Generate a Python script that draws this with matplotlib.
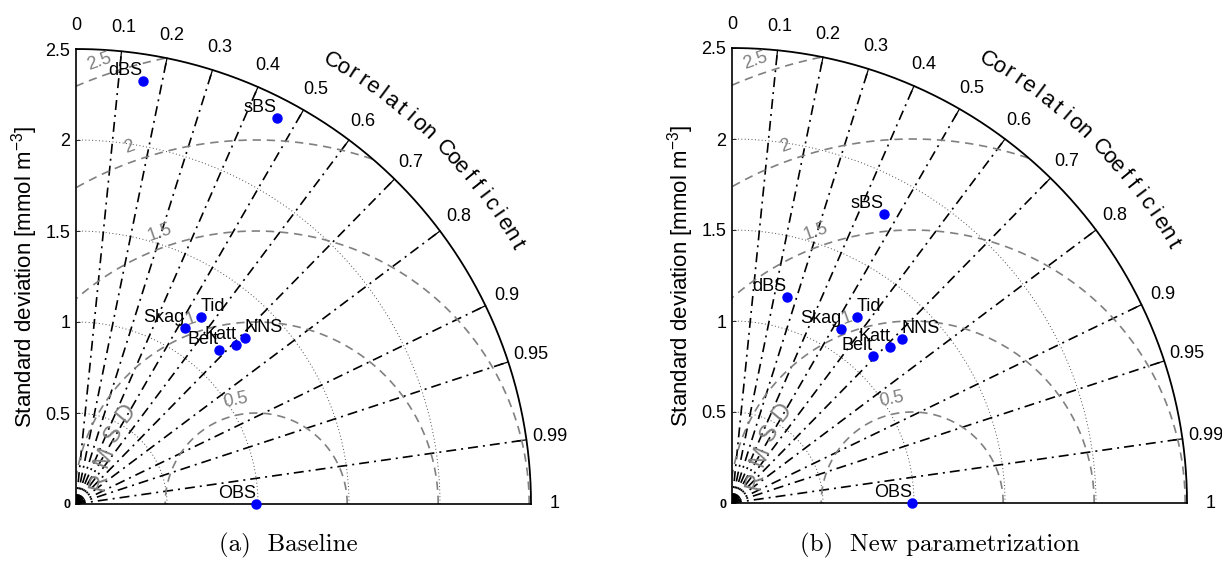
import numpy as np
import matplotlib.pyplot as plt

plt.rcParams['font.family'] = ['Liberation Sans', 'DejaVu Sans']
plt.rcParams['mathtext.fontset'] = 'custom'
plt.rcParams['mathtext.rm'] = 'Liberation Sans'
plt.rcParams['mathtext.it'] = 'Liberation Sans:italic'

# stations (same order in both panels), OBS is the reference point
names = ['OBS', 'NNS', 'Katt', 'Belt', 'Skag', 'Tid', 'sBS', 'dBS']

# (a) baseline: standard deviation [mmol m-3] and correlation
std_base = [0.99, 1.30, 1.24, 1.155, 1.135, 1.234, 2.391, 2.353]
corr_base = [1.0, 0.714, 0.709, 0.680, 0.526, 0.555, 0.461, 0.156]

# (b) new parametrization
std_new = [0.99, 1.296, 1.220, 1.119, 1.129, 1.232, 1.795, 1.173]
corr_new = [1.0, 0.719, 0.713, 0.691, 0.532, 0.556, 0.464, 0.256]

corr_ticks = [0, 0.1, 0.2, 0.3, 0.4, 0.5, 0.6, 0.7, 0.8, 0.9, 0.95, 0.99, 1]
std_ticks = [0, 0.5, 1, 1.5, 2, 2.5]
rmsd_levels = [0.5, 1, 1.5, 2, 2.5]
captions = ['(a)  Baseline', '(b)  New parametrization']

RMAX = 2.5
left_labels = ['Tid', 'NNS']  # these names sit right of their marker


def taylor(ax, std, corr):
    ax.set_xlim(0, RMAX)
    ax.set_ylim(0, RMAX)
    ax.set_aspect('equal')
    for s in ax.spines.values():
        s.set_visible(False)
    ax.set_xticks([])
    ax.set_yticks(std_ticks)
    ax.set_yticklabels([f'{v:g}' for v in std_ticks])
    ax.tick_params(axis='y', direction='in', length=3, width=0.6, labelsize=13, pad=4)
    lab0 = ax.get_yticklabels()[0]
    lab0.set_fontsize(9)
    lab0.set_fontweight('bold')
    ax.set_ylabel('Standard deviation [mmol m$^{-3}$]', fontsize=16, labelpad=4)

    th = np.linspace(0, np.pi / 2, 400)
    # standard deviation arcs
    for r in std_ticks[1:-1]:
        ax.plot(r * np.cos(th), r * np.sin(th), color='0.3', ls=(0, (1, 2.5)), lw=0.7)

    # correlation rays + labels
    for c in corr_ticks:
        a = np.arccos(c)
        if 0 < c < 1:
            ax.plot([0, RMAX * np.cos(a)], [0, RMAX * np.sin(a)], color='k',
                    ls=(0, (6, 3, 1.2, 3)), lw=1.2)
            ax.plot([(RMAX - 0.05) * np.cos(a), RMAX * np.cos(a)],
                    [(RMAX - 0.05) * np.sin(a), RMAX * np.sin(a)], color='k', lw=0.9)
        rl = RMAX + 0.13
        ax.text(rl * np.cos(a), rl * np.sin(a), f'{c:g}', ha='center', va='center',
                fontsize=13, clip_on=False)

    # curved axis title
    title = 'Correlation Coefficient'
    angs = np.linspace(60, 30.5, len(title))
    for ch, ang in zip(title, angs):
        a = np.deg2rad(ang)
        ax.text(2.81 * np.cos(a), 2.81 * np.sin(a), ch, rotation=ang - 90,
                rotation_mode='anchor', ha='center', va='center', fontsize=16,
                clip_on=False)

    # centered RMS difference arcs around the reference point
    obs = std[0]
    t = np.linspace(0, np.pi, 800)
    for r in rmsd_levels:
        x = obs + r * np.cos(t)
        y = r * np.sin(t)
        keep = (x >= 0) & (x ** 2 + y ** 2 <= RMAX ** 2)
        ax.plot(np.where(keep, x, np.nan), y, color='0.5', ls=(0, (5, 3.5)), lw=1.2)
        ang = 101 if r < 1 else 109.5
        a = np.deg2rad(ang)
        ax.text(obs + (r + 0.08) * np.cos(a), (r + 0.08) * np.sin(a), f'{r:g}',
                rotation=ang - 90, color='0.5', fontsize=13, ha='center', va='center')
    for ch, ang in zip('RMSD', np.linspace(172, 145, 4)):
        a = np.deg2rad(ang)
        ax.text(obs + 0.87 * np.cos(a), 0.87 * np.sin(a), ch, rotation=ang - 95,
                color='0.5', fontsize=17, ha='center', va='center', zorder=4)

    # frame: two axes and outer arc
    ax.plot([0, 0], [0, RMAX], color='k', lw=1.2, clip_on=False)
    ax.plot([0, RMAX], [0, 0], color='k', lw=1.2, clip_on=False)
    ax.plot(RMAX * np.cos(th), RMAX * np.sin(th), color='k', lw=1.3, clip_on=False)

    # model points
    std = np.asarray(std)
    ang = np.arccos(np.asarray(corr))
    xs, ys = std * np.cos(ang), std * np.sin(ang)
    ax.plot(xs, ys, 'o', color='#0000ff', ms=6.5, ls='none', clip_on=False, zorder=5)
    for n, x, y in zip(names, xs, ys):
        ha = 'left' if n in left_labels else 'right'
        ax.annotate(n, (x, y), xytext=(0, 1.5), textcoords='offset points',
                    ha=ha, va='bottom', fontsize=13, zorder=6)


W, H = 1222, 563
fig = plt.figure(figsize=(W / 100, H / 100), dpi=100)
size = 455
ax1 = fig.add_axes([76 / W, (H - 504) / H, size / W, size / H])
ax2 = fig.add_axes([732 / W, (H - 503) / H, size / W, size / H])
taylor(ax1, std_base, corr_base)
taylor(ax2, std_new, corr_new)

fig.text(288 / W, 1 - 545 / H, captions[0], family='cmr10', fontsize=18,
         ha='center', va='center')
fig.text(940 / W, 1 - 545 / H, captions[1], family='cmr10', fontsize=18,
         ha='center', va='center')

fig.savefig('out.png', dpi=100)
